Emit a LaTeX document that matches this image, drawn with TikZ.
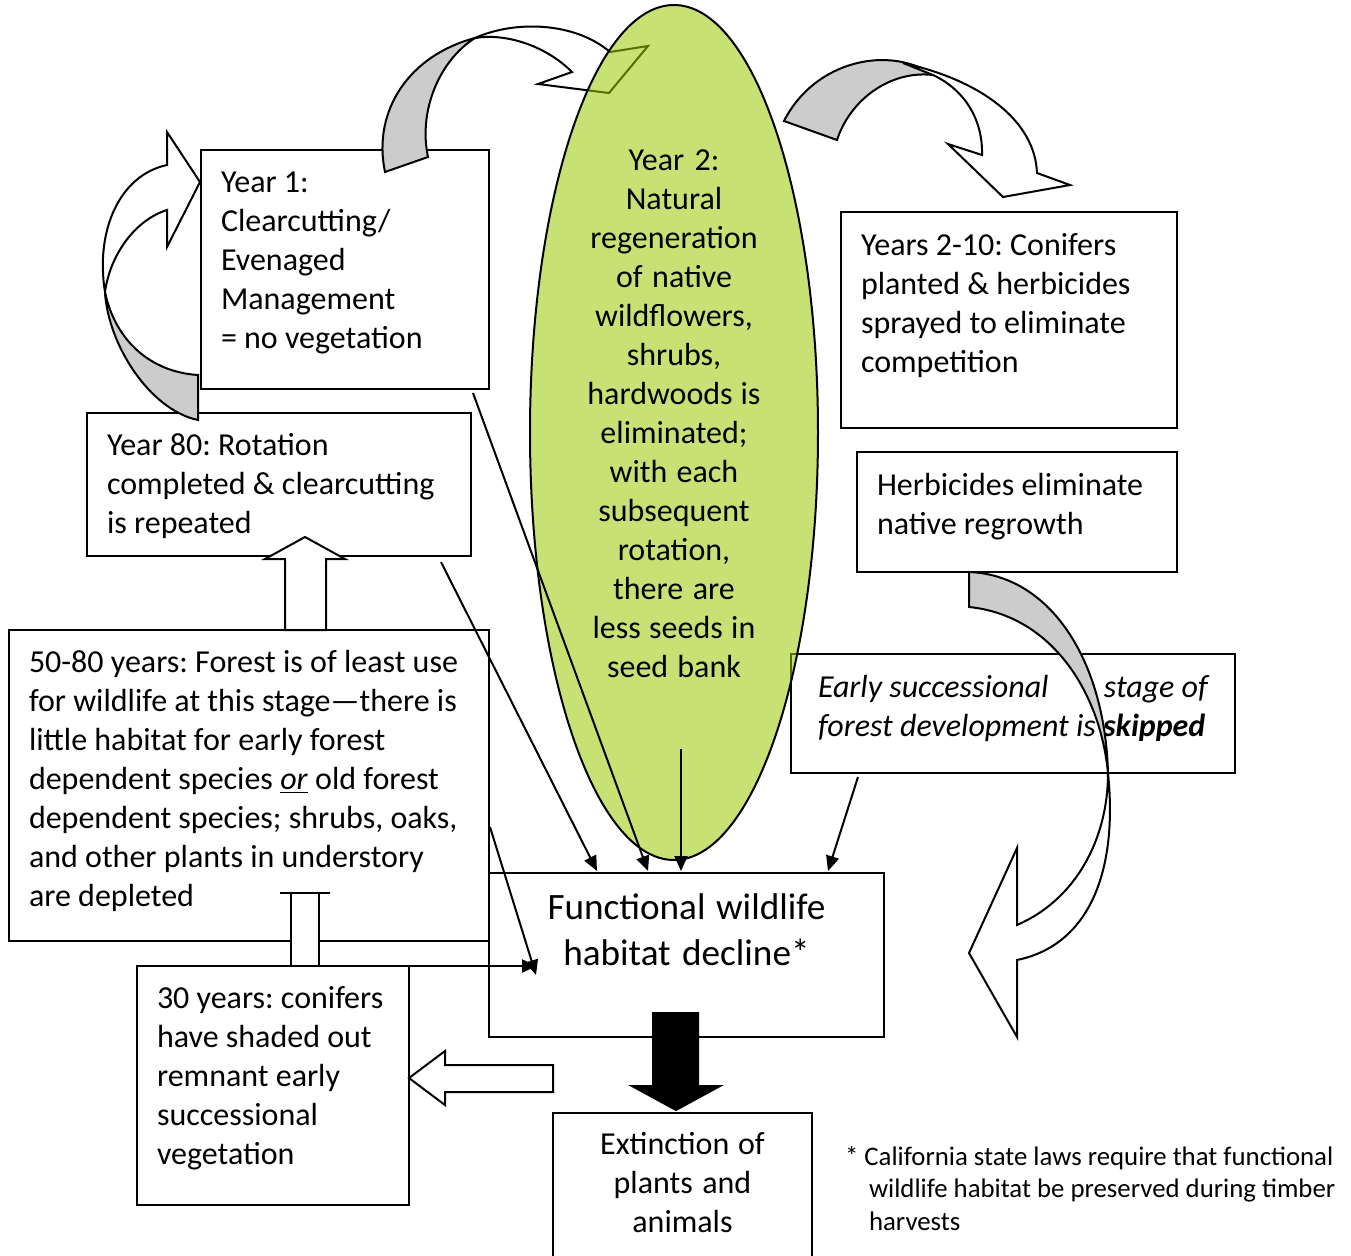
\documentclass[tikz,border=0pt]{standalone}
\usepackage{fontspec}
\setmainfont{Carlito}
\usetikzlibrary{shapes.geometric,arrows.meta}

\definecolor{leafgreen}{RGB}{155,201,4}
\definecolor{bandgray}{RGB}{204,204,204}
\frenchspacing
\hyphenpenalty=10000
\exhyphenpenalty=10000

\begin{document}
\begin{tikzpicture}[x=0.5pt,y=-0.5pt,->,>={Triangle[length=7.5pt,width=6.5pt]},line width=1pt,
    box node/.style={draw,rectangle,anchor=north west,inner xsep=10pt,inner ysep=0pt,outer sep=0pt,align=left,
        font=\fontsize{16pt}{19.5pt}\selectfont,execute at begin node={\spaceskip=0pt\xspaceskip=0pt}},
    text node/.style={inner sep=0pt,outer sep=0pt,font=\fontsize{16pt}{19.5pt}\selectfont,
        execute at begin node={\spaceskip=0pt\xspaceskip=0pt}},
    grey band/.style={-,draw,fill=bandgray},
    white band/.style={-,draw,fill=white},
    block arrow/.style={-,draw,fill=white}]

    \useasboundingbox (0,0) rectangle (1351,1255);

    \node[box node,text width=124pt,text height=21pt,text depth=98.5pt] (1) at (201,150)
        {Year 1:\\ Clearcutting/\\ Evenaged\\ Management\\ = no vegetation};
    \node[box node,text width=148pt,text height=21.5pt,text depth=86.5pt] (4) at (841,212)
        {Years 2-10: Conifers\\ planted \& herbicides\\ sprayed to eliminate\\ competition};
    \node[box node,text width=140pt,text height=21.5pt,text depth=38.5pt] (5) at (857,452)
        {Herbicides eliminate\\ native regrowth};
    \node[box node,inner xsep=13.5pt,text width=195pt,text height=21.5pt,text depth=38pt,font=\fontsize{16pt}{19.5pt}\selectfont\itshape] (6) at (791,654)
        {Early successional\hfill stage of\\ forest~development~is~\textbf{skipped}};
    \node[box node,text width=172pt,text height=21pt,text depth=50.5pt] (7) at (87,413)
        {Year 80: Rotation\\ completed \& clearcutting\\ is repeated};
    \node[box node,text width=220pt,text height=21pt,text depth=134.5pt] (8) at (9,630)
        {50-80 years: Forest is of least use\\ for wildlife at this stage---there is\\ little habitat for early forest\\
         dependent species \underline{\textit{or}} old forest\\ dependent species; shrubs, oaks,\\ and other plants in understory\\ are depleted};
    \node[box node,align=center,text width=177.5pt,text height=23pt,text depth=59pt,font=\fontsize{18.6pt}{23pt}\selectfont] (9) at (489,873)
        {Functional wildlife\\ habitat decline*};
    \node[box node,text width=116pt,text height=21pt,text depth=98.5pt] (10) at (137,966)
        {30 years: conifers\\ have shaded out\\ remnant early\\ successional\\ vegetation};
    \node[box node,align=center,text width=109.5pt,text height=20.5pt,text depth=54pt] (11) at (553,1113)
        {Extinction of\\ plants and\\ animals};
    \node[text node,anchor=base west,text width=260pt,align=left,font=\fontsize{13.4pt}{16.25pt}\selectfont] (12) at (845,1165)
        {* California state laws require that functional\\ \hspace*{12pt}wildlife habitat be preserved during timber\\ \hspace*{12pt}harvests};

    % curved arrow from Year 1 over to Year 2
    \draw[grey band] (385,172) .. controls (372,110) and (410,55) .. (475,38)
        .. controls (440,60) and (418,110) .. (428,157) -- cycle;
    \draw[white band] (475,38) .. controls (515,20) and (575,22) .. (610,52) -- (648,46) -- (609,93)
        -- (538,84) -- (572,72) .. controls (545,45) and (505,33) .. (475,38) -- cycle;

    \node[ellipse,draw,fill=leafgreen,fill opacity=0.55,text opacity=1,minimum width=144pt,minimum height=427.5pt,inner sep=0pt] (2) at (674,432.5) {};
    \node[text node,text width=100pt,align=center,anchor=base] (3) at (674,170)
        {Year 2:\\ Natural\\ regeneration\\ of native\\ wildflowers,\\ shrubs,\\ hardwoods is\\ eliminated;\\ with each\\
         subsequent\\ rotation,\\ there are\\ less seeds in\\ seed bank};

    \path
        ([xshift=-8pt,yshift=-2pt]1.south east) edge ([xshift=79.5pt,yshift=1pt]9.north west)
        ([xshift=-15pt,yshift=-3pt]7.south east) edge ([xshift=54pt,yshift=1pt]9.north west)
        ([xshift=3.5pt,yshift=56pt]2.south) edge ([xshift=-2.75pt,yshift=1pt]9.north)
        ([xshift=33.5pt,yshift=-2pt]6.south west) edge ([xshift=-28pt,yshift=1pt]9.north east)
        ([xshift=0.5pt,yshift=-20.75pt]8.east) edge ([xshift=23.5pt,yshift=-10pt]9.west)
        (10.north east) edge ([xshift=24pt,yshift=-5.5pt]9.west)
    ;

    % curved arrow from Year 2 to Years 2-10
    \draw[grey band] (784,121) .. controls (815,60) and (890,45) .. (933,75)
        .. controls (890,70) and (850,100) .. (837,140) -- cycle;
    \draw[white band] (903,63) .. controls (980,80) and (1035,120) .. (1037,173) -- (1070,185) -- (1003,197)
        -- (948,144) -- (982,155) .. controls (983,120) and (965,90) .. (933,75) -- cycle;

    % curved arrow from Year 80 back to Year 1
    \draw[white band] (105,292) .. controls (95,230) and (120,175) .. (167,165) -- (167,132) -- (200,182)
        -- (167,247) -- (167,210) .. controls (135,220) and (110,255) .. (105,292) -- cycle;
    \draw[grey band] (105,292) .. controls (108,345) and (150,410) .. (198,420) -- (198,375)
        .. controls (150,372) and (115,340) .. (105,292) -- cycle;

    % curved arrow from herbicides down past the skipped stage
    \draw[grey band] (969,572) .. controls (1050,575) and (1105,660) .. (1108,773)
        .. controls (1100,690) and (1050,615) .. (969,607) -- cycle;
    \draw[white band] (1108,773) .. controls (1118,870) and (1090,945) .. (1017,960) -- (1017,1037) -- (969,953)
        -- (1017,848) -- (1017,925) .. controls (1075,900) and (1108,840) .. (1108,773) -- cycle;

    % block arrows
    \draw[block arrow] (285,630) -- (285,559) -- (265,559) -- (305,537) -- (345,559) -- (326,559) -- (326,630) -- cycle;
    \draw[block arrow] (291,966) -- (291,893) -- (280,893) -- (330,893) -- (319,893) -- (319,966) -- cycle;
    \draw[block arrow] (553,1065) -- (445,1065) -- (445,1051) -- (409,1078) -- (445,1105) -- (445,1092) -- (553,1092) -- cycle;
    \draw[block arrow,fill=black] (653,1013) -- (698,1013) -- (698,1086) -- (720,1086) -- (676,1110) -- (632,1086) -- (653,1086) -- cycle;
\end{tikzpicture}
\end{document}
